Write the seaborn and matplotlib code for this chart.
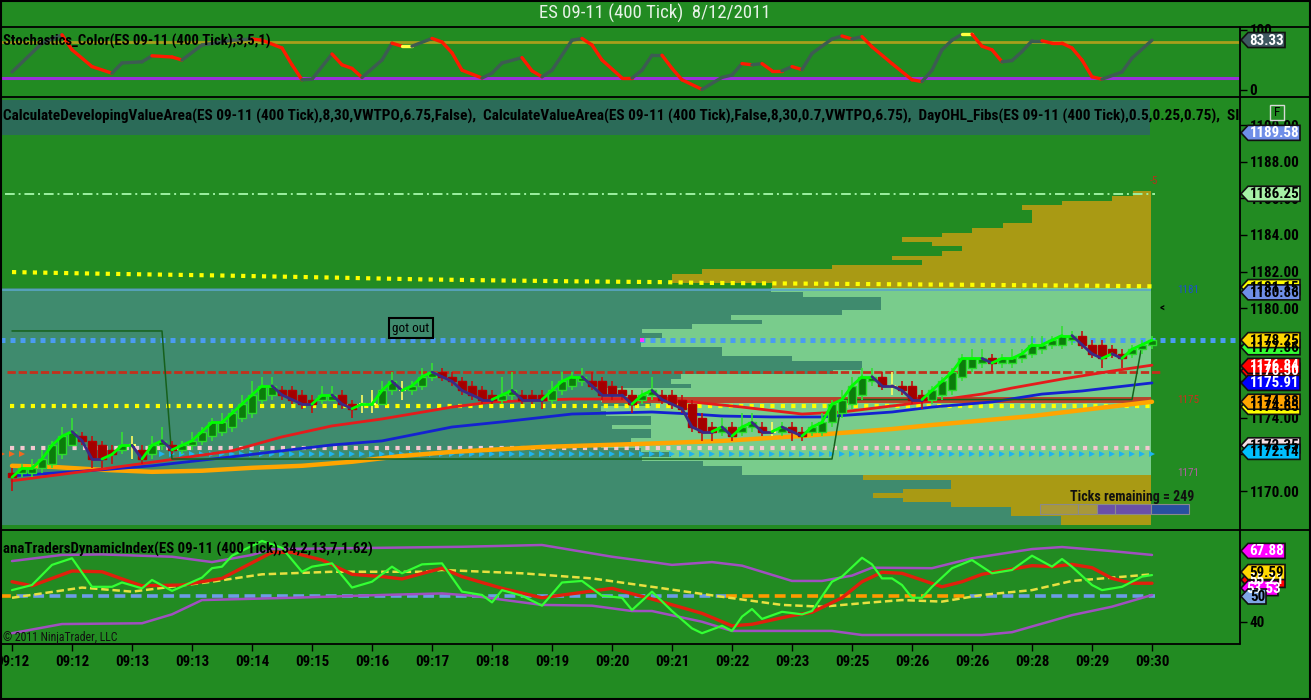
import numpy as np
import pandas as pd
import matplotlib
matplotlib.use("Agg")
import matplotlib.pyplot as plt
from matplotlib.patches import Polygon, Rectangle
import seaborn as sns

sns.set_theme(style="ticks")
plt.rcParams["font.family"] = ["Liberation Sans Narrow", "Roboto Condensed", "DejaVu Sans"]
plt.rcParams["font.stretch"] = "condensed"

BG = "#228b22"
TEAL = "#3f8b6e"
VA_GREEN = "#79cc8c"
OLIVE = "#a99a14"

# ---- 400 tick bars, bar 1 .. 115
bar_open = [
    1171.0, 1171.0, 1171.0, 1171.25, 1171.5, 1172.0, 1172.5, 1173.0, 1172.75, 1172.5,
    1172.25, 1172.25, 1172.5, 1172.25, 1172.0, 1172.5, 1172.5, 1172.25, 1172.5, 1172.75,
    1173.0, 1173.25, 1173.5, 1174.0, 1174.25, 1175.0, 1175.25, 1175.5, 1175.5, 1175.25,
    1175.0, 1175.0, 1175.0, 1175.25, 1174.75, 1174.75, 1174.75, 1174.75, 1175.5, 1175.5,
    1175.5, 1175.75, 1176.25, 1176.5, 1176.25, 1176.0, 1175.75, 1175.5, 1175.25, 1175.0,
    1175.25, 1175.25, 1175.25, 1175.25, 1175.0, 1175.5, 1175.75, 1176.0, 1176.0, 1176.0,
    1175.75, 1175.5, 1175.25, 1175.0, 1175.25, 1175.25, 1175.25, 1175.0, 1174.75, 1174.0,
    1173.5, 1173.25, 1173.5, 1173.25, 1173.5, 1173.5, 1173.25, 1173.25, 1173.5, 1173.25,
    1173.25, 1173.25, 1173.75, 1174.25, 1174.75, 1175.25, 1176.0, 1176.25, 1175.75, 1175.75,
    1175.75, 1175.25, 1175.0, 1175.25, 1175.5, 1176.25, 1176.75, 1177.0, 1177.25, 1177.0,
    1177.0, 1177.25, 1177.5, 1177.75, 1178.0, 1178.0, 1178.25, 1178.5, 1178.0, 1178.0,
    1177.75, 1177.5, 1177.5, 1177.75, 1178.0]
bar_high = [
    1171.25, 1171.5, 1171.75, 1172.25, 1172.75, 1173.5, 1174.0, 1173.25, 1173.0, 1172.75,
    1172.5, 1173.25, 1173.0, 1172.5, 1173.0, 1173.5, 1172.75, 1172.75, 1173.25, 1173.5,
    1174.0, 1174.25, 1174.5, 1175.25, 1176.0, 1176.25, 1176.25, 1175.75, 1175.75, 1175.5,
    1175.25, 1175.75, 1175.75, 1175.5, 1175.0, 1175.25, 1175.5, 1176.0, 1176.5, 1176.0,
    1176.0, 1176.75, 1177.0, 1176.75, 1176.5, 1176.25, 1176.0, 1175.75, 1175.5, 1176.25,
    1176.5, 1175.5, 1175.5, 1175.5, 1176.0, 1176.5, 1176.5, 1176.75, 1176.5, 1176.25,
    1176.0, 1175.75, 1175.5, 1175.5, 1176.25, 1175.5, 1175.5, 1175.25, 1175.0, 1174.25,
    1173.75, 1174.0, 1173.75, 1174.25, 1174.25, 1173.75, 1173.75, 1173.75, 1173.75, 1173.5,
    1173.75, 1174.25, 1175.0, 1175.5, 1176.25, 1176.75, 1176.75, 1176.5, 1176.5, 1176.0,
    1176.0, 1175.5, 1175.75, 1176.25, 1176.75, 1177.5, 1177.75, 1177.75, 1177.5, 1177.5,
    1177.75, 1177.75, 1178.5, 1178.5, 1178.5, 1179.0, 1178.75, 1178.75, 1178.25, 1178.25,
    1178.0, 1177.75, 1178.0, 1178.25, 1178.5]
bar_low = [
    1170.0, 1170.75, 1170.75, 1171.0, 1171.25, 1171.75, 1172.5, 1172.5, 1171.25, 1171.25,
    1171.5, 1172.0, 1171.75, 1171.5, 1171.75, 1172.25, 1172.0, 1172.0, 1172.25, 1172.5,
    1172.75, 1173.0, 1173.25, 1173.75, 1174.0, 1174.75, 1175.0, 1175.0, 1174.75, 1174.5,
    1174.25, 1174.75, 1175.0, 1174.5, 1174.0, 1174.25, 1174.25, 1174.75, 1175.25, 1175.0,
    1175.25, 1175.5, 1176.0, 1176.0, 1175.75, 1175.25, 1175.0, 1174.75, 1174.75, 1174.75,
    1175.0, 1174.75, 1174.75, 1174.5, 1174.75, 1175.25, 1175.5, 1175.75, 1175.5, 1175.0,
    1175.0, 1175.0, 1174.25, 1174.75, 1175.0, 1174.75, 1174.5, 1174.25, 1173.25, 1172.75,
    1172.75, 1173.0, 1172.75, 1173.0, 1173.25, 1173.0, 1173.0, 1173.0, 1172.75, 1172.75,
    1173.0, 1173.0, 1173.5, 1174.0, 1174.5, 1175.0, 1175.75, 1175.5, 1175.25, 1175.25,
    1174.75, 1174.5, 1174.75, 1175.0, 1175.25, 1176.0, 1176.5, 1176.75, 1176.5, 1176.75,
    1176.75, 1177.0, 1177.25, 1177.5, 1177.75, 1177.75, 1178.0, 1177.75, 1177.25, 1176.75,
    1177.25, 1176.75, 1177.25, 1177.5, 1177.75]
bar_close = [
    1170.75, 1171.25, 1171.25, 1171.75, 1172.5, 1173.0, 1173.25, 1172.75, 1171.75, 1171.75,
    1172.0, 1172.5, 1172.5, 1171.75, 1172.5, 1172.75, 1172.25, 1172.5, 1172.75, 1173.25,
    1173.75, 1173.75, 1174.25, 1174.75, 1175.25, 1175.75, 1175.75, 1175.25, 1175.0, 1174.75,
    1174.75, 1175.25, 1175.25, 1174.75, 1174.5, 1174.75, 1174.75, 1175.5, 1176.0, 1175.5,
    1175.75, 1176.25, 1176.5, 1176.25, 1176.0, 1175.5, 1175.25, 1175.0, 1175.0, 1175.25,
    1175.5, 1175.0, 1175.0, 1175.0, 1175.5, 1176.0, 1176.25, 1176.25, 1175.75, 1175.25,
    1175.25, 1175.25, 1174.75, 1175.25, 1175.5, 1175.0, 1174.75, 1174.5, 1173.5, 1173.25,
    1173.25, 1173.5, 1173.0, 1173.5, 1173.75, 1173.25, 1173.25, 1173.5, 1173.25, 1173.0,
    1173.5, 1173.75, 1174.75, 1175.0, 1175.75, 1176.25, 1176.25, 1175.75, 1175.75, 1175.5,
    1175.0, 1175.0, 1175.5, 1176.0, 1176.5, 1177.25, 1177.25, 1177.25, 1177.0, 1177.25,
    1177.25, 1177.5, 1178.0, 1178.0, 1178.25, 1178.5, 1178.5, 1178.0, 1177.5, 1177.25,
    1177.5, 1177.25, 1177.75, 1178.0, 1178.25]

time_ticks = list(range(1, 116, 6))
time_labels = ["09:12", "09:12", "09:13", "09:13", "09:14", "09:15", "09:16", "09:17",
               "09:18", "09:19", "09:20", "09:21", "09:22", "09:23", "09:25", "09:26",
               "09:26", "09:28", "09:29", "09:30"]

# moving averages (bar, price)
red_ma_bars = [1, 10, 16, 23, 28, 33, 38, 45, 49, 57, 65, 69, 74, 80, 84, 89, 93, 98, 101, 106, 111, 115]
red_ma = [1170.56, 1171.2, 1171.65, 1172.2, 1172.96, 1173.56, 1173.94, 1174.59, 1174.87, 1175.03,
          1175.03, 1174.87, 1174.59, 1174.21, 1174.32, 1174.65, 1174.92, 1175.3, 1175.63, 1176.12,
          1176.56, 1176.88]
blue_ma_bars = [1, 10, 15, 23, 28, 33, 38, 45, 50, 57, 65, 69, 72, 77, 82, 89, 93, 99, 104, 108, 115]
blue_ma = [1170.83, 1171.16, 1171.38, 1171.87, 1172.2, 1172.52, 1172.74, 1173.5, 1173.78, 1174.21,
           1174.32, 1174.21, 1174.1, 1174.05, 1174.05, 1174.32, 1174.59, 1174.87, 1175.3, 1175.47,
           1175.91]
orange_ma_bars = [1, 5, 10, 15, 20, 25, 30, 35, 40, 45, 54, 64, 72, 80, 89, 93, 103, 109, 115]
orange_ma = [1171.38, 1171.32, 1171.16, 1171.05, 1171.11, 1171.27, 1171.38, 1171.6, 1171.92, 1172.14,
             1172.41, 1172.58, 1172.74, 1173.01, 1173.39, 1173.61, 1174.1, 1174.49, 1174.88]

# developing value area high
vah_bars = [1, 10, 21, 34, 42, 50, 58, 66, 70, 90, 110, 115]
vah_vals = [1181.97, 1181.88, 1181.79, 1181.66, 1181.57, 1181.51, 1181.46, 1181.42, 1181.38,
            1181.3, 1181.22, 1181.19]

day_high = 1186.25
va_high = 1181.0
va_low = 1171.0
pivot_level = 1178.25
pivot_mark_bar = 64
red_level = 1176.5
poc_level = 1175.0
poc_start_bar = 60
dev_val = 1174.65
pink_level = 1172.35
cyan_level = 1172.05
cyan_start_bar = 16

pos_bars = [1, 16, 17, 83, 84, 113, 114]
pos_vals = [1178.75, 1178.75, 1171.75, 1171.75, 1175.0, 1175.0, 1178.0]

# volume profile, price row and length in bars
profile_prices = [1186.25 - 0.25 * i for i in range(73)]
profile_len = [
    1.8, 3.9, 8.9, 12.9, 11.9, 11.9, 11.9, 14.8, 17.9, 20.9, 24.9, 21.9, 18.9, 20.9, 25.9,
    22.9, 31.9, 44.9, 47.9, 47.9, 37.9,
    38.0, 34.8, 27.0, 27.0, 27.0, 30.9, 42.0, 38.9, 45.9, 50.9, 48.9, 51.0, 51.0, 42.9, 42.9,
    35.9, 28.9, 28.9, 31.8, 47.0, 48.0, 46.0, 55.0, 55.0, 55.0, 50.0, 55.0, 54.5, 50.0, 50.0,
    53.9, 50.0, 50.0, 52.0, 55.0, 51.0, 48.0, 50.9, 44.8, 40.9, 40.9,
    28.8, 20.0, 20.0, 24.8, 27.8, 24.8, 20.0, 14.0, 14.0, 9.0, 9.0]
profile_end = 114.9

# stochastics
stoch_bars = [1, 4, 6, 7, 9, 11, 12, 14, 15, 17, 18, 20, 22, 23, 25, 26, 28, 29, 30, 31, 33, 34,
              35, 36, 38, 39, 40, 41, 43, 44, 45, 46, 48, 49, 50, 52, 53, 54, 55, 57, 58, 59, 60,
              62, 63, 64, 65, 66, 67, 68, 70, 72, 73, 74, 75, 76, 77, 78, 79, 80, 81, 83, 84, 85,
              86, 87, 89, 91, 92, 93, 94, 95, 96, 97, 98, 99, 100, 101, 102, 103, 104, 105, 106,
              107, 108, 109, 110, 112, 113, 115]
stoch_vals = [30, 78, 92, 67, 39, 28, 45, 47, 57, 55, 50, 75, 80, 83, 85, 83, 70, 42, 17, 18, 60, 42,
              36, 21, 50, 78, 73, 73, 86, 80, 62, 33, 20, 28, 45, 54, 32, 22, 33, 83, 86, 75, 50,
              20, 20, 33, 58, 58, 36, 17, 1, 21, 25, 44, 42, 44, 32, 32, 39, 34, 61, 85, 90, 85,
              89, 72, 44, 17, 14, 33, 67, 83, 93, 93, 73, 67, 47, 49, 64, 82, 82, 78, 78,
              70, 50, 22, 18, 30, 53, 83]
stoch_yellow_bars = [40, 96]

# traders dynamic index
upper_bars = [1, 6, 10, 17, 21, 25, 27, 38, 46, 54, 61, 65, 67, 71, 74, 79, 82, 85, 87, 93, 97, 103, 106, 111, 115]
upper_band = [63.9, 66.3, 66.5, 65.6, 63.5, 66.3, 68.6, 69.1, 69.5, 70.2, 65.6, 63.5, 62.4, 63.5, 62.1,
              56.1, 56.1, 58.2, 61.3, 61.1, 65.0, 68.6, 69.4, 67.8, 66.3]
lower_bars = [1, 6, 14, 17, 20, 29, 38, 44, 47, 54, 59, 63, 65, 70, 73, 83, 86, 98, 101, 107, 111, 115]
lower_band = [35.6, 39.2, 39.5, 43.0, 48.6, 49.5, 50.6, 51.2, 50.3, 46.7, 46.4, 44.3, 44.3, 40.1, 36.5,
              36.5, 34.9, 34.9, 36.0, 42.7, 46.0, 50.6]
base_bars = [1, 8, 13, 21, 26, 33, 42, 44, 52, 59, 65, 72, 78, 82, 87, 90, 94, 98, 103, 107, 111, 115]
base_line = [49.5, 53.5, 51.9, 55.8, 58.7, 59.7, 59.7, 60.4, 59.1, 57.1, 53.8, 49.9, 46.7, 46.0, 47.7,
             48.6, 48.0, 50.6, 52.5, 56.1, 57.4, 58.7]
signal_bars = [1, 3, 7, 10, 12, 14, 18, 22, 27, 29, 32, 35, 38, 40, 44, 46, 50, 54, 61, 65, 70, 73, 75,
               79, 81, 84, 86, 88, 90, 94, 96, 98, 103, 105, 107, 109, 111, 113, 115]
signal_line = [55.8, 54.2, 60.0, 59.7, 56.9, 54.2, 54.5, 57.1, 67.3, 67.3, 64.3, 58.7, 57.8, 56.9, 61.1,
               57.8, 53.2, 49.5, 53.2, 49.0, 43.4, 38.5, 39.1, 42.5, 43.8, 49.5, 55.8, 59.5, 59.1, 53.8,
               55.8, 58.7, 62.1, 61.7, 62.6, 61.3, 57.1, 55.2, 55.2]
rsi_bars = [1, 3, 5, 7, 9, 11, 12, 14, 15, 17, 20, 21, 22, 23, 26, 28, 30, 31, 33, 35, 37, 39, 40, 42,
            44, 46, 48, 49, 50, 52, 54, 56, 58, 60, 62, 63, 65, 67, 69, 70, 72, 73, 74, 75, 76, 78,
            80, 81, 83, 84, 86, 87, 88, 89, 90, 91, 92, 93, 95, 97, 99, 101, 103, 105, 106, 107,
            109, 110, 112, 114, 115]
rsi_line = [52.5, 54.5, 62.4, 65.0, 53.8, 53.8, 55.5, 53.2, 56.5, 52.2, 57.4, 61.1, 61.7, 66.0, 71.8,
            69.1, 59.7, 61.7, 63.0, 53.5, 55.8, 61.7, 59.1, 62.6, 63.0, 51.9, 50.6, 47.7, 52.5, 50.3,
            46.4, 55.5, 56.1, 50.3, 49.5, 44.7, 51.9, 44.3, 37.5, 35.6, 38.5, 36.5, 42.1, 45.1, 41.2,
            44.0, 43.0, 44.3, 55.8, 57.8, 65.2, 62.6, 57.1, 57.1, 54.5, 49.5, 49.5, 53.8, 61.1, 64.3,
            59.1, 60.4, 66.0, 61.7, 64.7, 61.7, 54.5, 52.5, 53.8, 57.8, 58.4]
mid_spans = [(-0.2, 1.5, "#ff9a00"), (1.5, 72.4, "#6c9ce6"), (72.4, 96.8, "#ff9a00"), (96.8, 115.3, "#6c9ce6")]

df = pd.DataFrame({"bar": np.arange(1, len(bar_open) + 1), "open": bar_open, "high": bar_high,
                   "low": bar_low, "close": bar_close})

W, H = 1311.0, 700.0
fig = plt.figure(figsize=(W / 100, H / 100), dpi=100, facecolor=BG)


def box(top, bottom):
    return [0, 1 - bottom / H, 1240 / W, (bottom - top) / H]


ax_top = fig.add_axes(box(27, 97))
ax_main = fig.add_axes(box(97, 530))
ax_bot = fig.add_axes(box(530, 644))
for ax in (ax_top, ax_main, ax_bot):
    ax.set_facecolor(BG)
    ax.set_xlim(-0.2, 123.8)
    for s in ax.spines.values():
        s.set_visible(False)
    ax.yaxis.tick_right()
    ax.tick_params(axis="y", direction="out", length=5, width=1, color="black", pad=2,
                   labelsize=10.8, labelcolor="black")
    ax.tick_params(axis="x", bottom=False, labelbottom=False)
    ax.grid(False)

ax_top.set_ylim(-11.67, 105)
ax_top.set_yticks([0, 100], ["0", "100"], fontweight="bold")
ax_main.set_ylim(1167.87, 1191.54)
main_ticks = np.arange(1170, 1191, 2)
ax_main.set_yticks(main_ticks, [f"{v:.2f}" for v in main_ticks], fontweight="bold")
ax_bot.set_ylim(31.37, 76.08)
ax_bot.set_yticks([40, 50, 60], ["40", "50", "60"], fontweight="bold")
ax_bot.set_xticks(time_ticks, time_labels, fontweight="bold")
ax_bot.tick_params(axis="x", bottom=True, labelbottom=True, direction="out", length=5, width=1,
                   color="black", pad=3, labelsize=10.8, labelcolor="black")

# ---------- stochastics panel
ax_top.axhline(80, color="#a89f1c", lw=2)
ax_top.axhline(20, color="#9b30d9", lw=2.2)
prev = "#3d5c52"
for i in range(len(stoch_bars) - 1):
    d = stoch_vals[i + 1] - stoch_vals[i]
    if stoch_bars[i] in stoch_yellow_bars:
        col = "#ffff40"
    elif d > 0:
        col = "#3d5c52"
    elif d < 0:
        col = "#ff1a00"
    else:
        col = prev
    prev = col if col != "#ffff40" else prev
    ax_top.plot(stoch_bars[i:i + 2], stoch_vals[i:i + 2], color=col, lw=2.4, solid_capstyle="round")

# ---------- main panel: profile
ax_main.add_patch(Rectangle((-0.2, 1168.125), profile_end + 0.2, va_high + 0.125 - 1168.125,
                            fc=TEAL, ec="none", zorder=0.5))
prof_colors = [VA_GREEN if va_low <= p <= va_high else OLIVE for p in profile_prices]
ax_main.barh(profile_prices, profile_len, left=[profile_end - w for w in profile_len], height=0.25,
             color=prof_colors, edgecolor="none", zorder=1)

ax_main.hlines(va_high, -0.2, profile_end, color="#5aa6c8", lw=1.2, zorder=2)
ax_main.hlines(day_high, 0.3, 115.3, color="#9cf0a0", lw=1.4, linestyles=(0, (5, 2, 1, 2)), zorder=2)
ax_main.hlines(poc_level, poc_start_bar, profile_end, color="#b8442c", lw=4.3, zorder=2)
ax_main.hlines(red_level, 0.5, 116, color="#c4301c", lw=2.0, linestyles=(0, (3, 1)), zorder=2)

sns.lineplot(x=vah_bars, y=vah_vals, ax=ax_main, color="#ffff00", lw=3,
             linestyle=(0, (1, 1.5)), sort=False, estimator=None, zorder=3)
ax_main.hlines(dev_val, 0.8, 115.3, color="#ffff00", lw=3, linestyles=(0, (1, 1.5)), zorder=3)
ax_main.hlines(pink_level, 0.8, 115.3, color="#f4c8d0", lw=3, linestyles=(0, (1, 1.5)), zorder=3)
cyan_x = np.arange(cyan_start_bar, 116)
ax_main.plot(cyan_x, [cyan_level] * len(cyan_x), ">", color="#1eb4f0", ms=4, mew=0, zorder=3)
ax_main.plot(np.arange(0, 3), [cyan_level] * 3, ">", color="#f06a20", ms=4, mew=0, zorder=3)
ax_main.hlines(pivot_level, -0.2, 123.8, color="#4a9cf2", lw=3.6, linestyles=(0, (1, 1)), zorder=3)
ax_main.plot([pivot_mark_bar], [pivot_level], "s", color="#ff30ff", ms=3.5, mew=0, zorder=3)

sns.lineplot(x=orange_ma_bars, y=orange_ma, ax=ax_main, color="#ffa500", lw=3.2, sort=False,
             estimator=None, zorder=3.2)
sns.lineplot(x=blue_ma_bars, y=blue_ma, ax=ax_main, color="#1422d0", lw=2.0, sort=False,
             estimator=None, zorder=3.3)
sns.lineplot(x=red_ma_bars, y=red_ma, ax=ax_main, color="#e41c1c", lw=2.0, sort=False,
             estimator=None, zorder=3.4)
ax_main.plot(pos_bars, pos_vals, color="#16601c", lw=1.1, zorder=3.5)

# candles
for r in df.itertuples():
    if r.close > r.open:
        wick, fill, edge = "#35e035", "#0b7d0b", "#2bdc2b"
    elif r.close < r.open:
        wick, fill, edge = "#c41010", "#a30000", "#b40000"
    else:
        wick, fill, edge = "#ffff60", None, None
    ax_main.vlines(r.bar, r.low, r.high, color=wick, lw=1.2, zorder=4)
    if fill is None:
        ax_main.hlines(r.open, r.bar - 0.35, r.bar + 0.35, color=wick, lw=1.5, zorder=4.1)
    else:
        ax_main.bar(r.bar, abs(r.close - r.open), bottom=min(r.open, r.close), width=0.75,
                    color=fill, edgecolor=edge, lw=1, zorder=4.1)

# fast trend line over closes
prev = "#00ff00"
for i in range(len(bar_close) - 1):
    d = bar_close[i + 1] - bar_close[i]
    col = "#00ff00" if d > 0 else ("#3b2a85" if d < 0 else prev)
    prev = col
    ax_main.plot([i + 1, i + 2], bar_close[i:i + 2], color=col, lw=2, zorder=5, solid_capstyle="round")

# header band and texts
ax_main.add_patch(Rectangle((0, (530 - 135) / 433), 1150 / 1240, 35 / 433, transform=ax_main.transAxes,
                            fc="#2b6b58", ec="none", zorder=6))
ax_main.text(3 / 1240, (530 - 116) / 433,
             "CalculateDevelopingValueArea(ES 09-11 (400 Tick),8,30,VWTPO,6.75,False),  "
             "CalculateValueArea(ES 09-11 (400 Tick),False,8,30,0.7,VWTPO,6.75),  "
             "DayOHL_Fibs(ES 09-11 (400 Tick),0.5,0.25,0.75),  SI",
             transform=ax_main.transAxes, ha="left", va="center", fontsize=11.0, fontweight="bold",
             color="black", clip_on=True, zorder=7)
ax_main.text(40.9, 1178.9, "got out", ha="center", va="center", fontsize=9.5, color="black", zorder=7,
             bbox=dict(boxstyle="square,pad=0.25", fc=TEAL, ec="black", lw=1.5))
ax_main.text(115.2, 1186.96, "-5", ha="center", va="center", fontsize=8, color="#b8301c", zorder=7)
ax_main.text(118.6, va_high, "1181", ha="center", va="center", fontsize=8, color="#1e50c8", zorder=7)
ax_main.text(118.6, poc_level, "1175", ha="center", va="center", fontsize=8, color="#c8301c", zorder=7)
ax_main.text(118.6, va_low, "1171", ha="center", va="center", fontsize=8, color="#b060a0", zorder=7)
ax_main.text(116.0, 1180.04, "<", ha="center", va="center", fontsize=8, fontweight="bold", color="black",
             zorder=7)

# ---------- dynamic index panel
for a, b, c in mid_spans:
    ax_bot.hlines(50, a, b, color=c, lw=2.6, linestyles=(0, (3, 1.5)))
sns.lineplot(x=upper_bars, y=upper_band, ax=ax_bot, color="#a050c0", lw=1.8, sort=False, estimator=None)
sns.lineplot(x=lower_bars, y=lower_band, ax=ax_bot, color="#a050c0", lw=1.8, sort=False, estimator=None)
sns.lineplot(x=base_bars, y=base_line, ax=ax_bot, color="#e8e040", lw=1.8, linestyle=(0, (3, 1.5)),
             sort=False, estimator=None)
sns.lineplot(x=signal_bars, y=signal_line, ax=ax_bot, color="#e0200c", lw=2.4, sort=False, estimator=None)
sns.lineplot(x=rsi_bars, y=rsi_line, ax=ax_bot, color="#33ff33", lw=1.6, sort=False, estimator=None)
for ax in (ax_top, ax_main, ax_bot):
    ax.set_xlabel("")
    ax.set_ylabel("")
    if ax.get_legend() is not None:
        ax.get_legend().remove()

# ---------- overlay: frames, titles and price tags
ov = fig.add_axes([0, 0, 1, 1], zorder=10)
ov.set_xlim(0, W)
ov.set_ylim(H, 0)
ov.axis("off")
ov.patch.set_alpha(0)


def ypx(ax, v):
    return H - ax.transData.transform((0, v))[1]


def tag(ax, value, text, fc, tc, right=1300):
    y = ypx(ax, value)
    x0, h = 1241, 7.5
    ov.add_patch(Polygon([(x0, y), (x0 + 7, y - h), (right, y - h), (right, y + h), (x0 + 7, y + h)],
                         closed=True, fc=fc, ec="#111111", lw=1.2))
    ov.text((x0 + 7 + right) / 2 + 0.5, y + 0.5, text, ha="center", va="center", color=tc,
            fontsize=10.8, fontweight="bold")


for y in (27, 97, 530):
    ov.plot([0, W], [y, y], color="black", lw=1.3)
ov.plot([0, 1240], [644, 644], color="black", lw=1.3)
ov.plot([1240, 1240], [27, 644], color="black", lw=1.3)
ov.plot([0.7, 0.7], [27, 644], color="black", lw=1.3)
ov.add_patch(Rectangle((0.5, 0.5), W - 1.5, H - 1.5, fc="none", ec="black", lw=1.5))

ov.text(655, 13, "ES 09-11 (400 Tick)  8/12/2011", ha="center", va="center", fontsize=13.5,
        color="#e6f2e6")
ov.text(3, 41, "Stochastics_Color(ES 09-11 (400 Tick),3,5,1)", ha="left", va="center", fontsize=10.6,
        fontweight="bold", color="black")
ov.text(3, 549, "anaTradersDynamicIndex(ES 09-11 (400 Tick),34,2,13,7,1.62)", ha="left", va="center",
        fontsize=10.7, fontweight="bold", color="black")
ov.text(3, 637, "\u00a9 2011 NinjaTrader, LLC", ha="left", va="center", fontsize=8.5, color="#101010")
ov.add_patch(Rectangle((1270, 105), 14, 15, fc="none", ec="#d8d8d8", lw=1))
ov.text(1277, 113, "F", ha="center", va="center", fontsize=9.5, color="#000000", zorder=12)

ov.text(1070, 497, "Ticks remaining = 249", ha="left", va="center", fontsize=10, fontweight="bold",
        color="#101010")
for x0, x1, c in [(1040, 1078, "#a8983a"), (1078, 1097, "#a8983a"), (1097, 1115, "#6a4fa8"),
                  (1115, 1151, "#6a4fa8"), (1151, 1189, "#2850a0")]:
    ov.add_patch(Rectangle((x0, 504), x1 - x0, 10, fc=c, ec="#8a8a8a", lw=0.8))

tag(ax_top, 83.33, "83.33", "#3e5860", "white", right=1285)

tag(ax_main, 1189.58, "1189.58", "#6f8fe8", "white")
tag(ax_main, 1186.25, "1186.25", "#a6f2a6", "black")
tag(ax_main, 1181.15, "1181.15", "#ffff00", "black")
tag(ax_main, 1180.86, "1180.86", "#6f8fe8", "black")
tag(ax_main, 1177.86, "1177.86", "#33ff33", "black")
tag(ax_main, 1178.25, "1178.25", "#ffd700", "black")
tag(ax_main, 1176.57, "1176.50", "#ff0000", "white")
tag(ax_main, 1176.84, "1176.84", "#ff0000", "white")
tag(ax_main, 1175.91, "1175.91", "#0000ff", "white")
tag(ax_main, 1174.6, "1174.65", "#ffff00", "black")
tag(ax_main, 1174.88, "1174.88", "#ffa500", "black")
tag(ax_main, 1172.5, "1172.35", "#f6e0e6", "black")
tag(ax_main, 1172.14, "1172.14", "#00bfff", "black")

tag(ax_bot, 67.88, "67.88", "#ff00ff", "white", right=1285)
tag(ax_bot, 56.5, "55.21", "#ff0000", "white", right=1285)
tag(ax_bot, 59.59, "59.59", "#ffd700", "black", right=1285)
tag(ax_bot, 53.3, "53.53", "#ff00ff", "white", right=1278)
tag(ax_bot, 50, "50", "#7ea6e6", "black", right=1266)

fig.savefig("out.png", dpi=100, facecolor=BG)
